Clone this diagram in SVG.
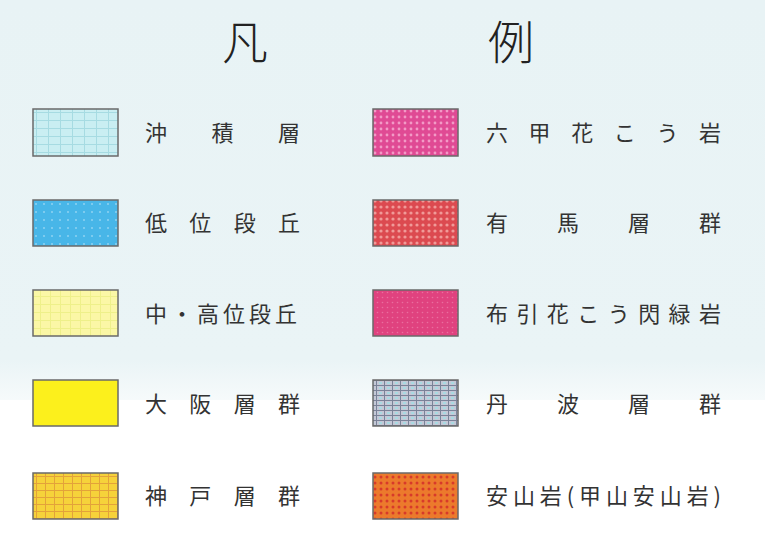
<svg xmlns="http://www.w3.org/2000/svg" width="765" height="541" viewBox="0 0 765 541">
<defs>
<linearGradient id="bg" x1="0" y1="0" x2="0" y2="1">
<stop offset="0" stop-color="#e8f3f5"/>
<stop offset="0.9" stop-color="#eaf4f6"/>
<stop offset="1" stop-color="#f6fafb"/>
</linearGradient>
<pattern id="pAlluv" width="12" height="8" patternUnits="userSpaceOnUse">
<rect width="12" height="8" fill="#c9eef2"/>
<path d="M0 0.5H12M0.5 0V8" stroke="#a6dbe2" stroke-width="1"/>
</pattern>
<pattern id="pLow" width="8" height="8" patternUnits="userSpaceOnUse">
<rect width="8" height="8" fill="#48b6e8"/>
<circle cx="4" cy="4" r="1" fill="#8fd3f2"/>
</pattern>
<pattern id="pMid" width="10" height="8" patternUnits="userSpaceOnUse">
<rect width="10" height="8" fill="#fbf7a6"/>
<path d="M0 0.5H10M0.5 0V8" stroke="#eef08a" stroke-width="1"/>
</pattern>
<pattern id="pKobe" width="9" height="7" patternUnits="userSpaceOnUse">
<rect width="9" height="7" fill="#f6d23a"/>
<path d="M0 0.5H9M0.5 0V7" stroke="#e3a23a" stroke-width="1"/>
</pattern>
<pattern id="pRokko" width="6" height="6" patternUnits="userSpaceOnUse">
<rect width="6" height="6" fill="#e04a94"/>
<circle cx="3" cy="3" r="1.4" fill="#f29ac6"/>
</pattern>
<pattern id="pArima" width="6" height="6" patternUnits="userSpaceOnUse">
<rect width="6" height="6" fill="#dc4a50"/>
<circle cx="3" cy="3" r="1.6" fill="#f09a98"/>
</pattern>
<pattern id="pNuno" width="5" height="5" patternUnits="userSpaceOnUse">
<rect width="5" height="5" fill="#e0427f"/>
<circle cx="2.5" cy="2.5" r="0.8" fill="#ea6e9e"/>
</pattern>
<pattern id="pTamba" width="8" height="5" patternUnits="userSpaceOnUse">
<rect width="8" height="5" fill="#c4c8d6"/>
<path d="M0 0.5H8M0.5 0V5" stroke="#7a8298" stroke-width="1"/>
<rect x="3" y="2" width="3" height="2" fill="#a8dae2"/>
</pattern>
<pattern id="pAnz" width="6" height="6" patternUnits="userSpaceOnUse">
<rect width="6" height="6" fill="#ec7a2c"/>
<circle cx="3" cy="3" r="1.5" fill="#d83a2a"/>
</pattern>
</defs>
<style>
.sw{stroke:#6a6a6a;stroke-width:1.5}
.lb{font-family:"Noto Sans CJK JP","Noto Sans CJK SC",sans-serif;font-size:22px;fill:#333}
.tt{font-family:"Noto Sans CJK JP","Noto Sans CJK SC",sans-serif;font-size:46px;font-weight:300;fill:#222}
</style>
<rect width="765" height="541" fill="#ffffff"/>
<rect width="765" height="400" fill="url(#bg)"/>
<g id="title">
<text class="tt" x="245" y="59" text-anchor="middle">凡</text>
<text class="tt" x="511" y="59" text-anchor="middle">例</text>
</g>
<g id="alluvium">
<rect class="sw" x="33" y="109" width="85" height="47" fill="url(#pAlluv)"/>
<text class="lb" x="145" y="141" textLength="155" lengthAdjust="spacing">沖積層</text>
</g>
<g id="low-terrace">
<rect class="sw" x="33" y="200" width="85" height="46" fill="url(#pLow)"/>
<text class="lb" x="145" y="231" textLength="155" lengthAdjust="spacing">低位段丘</text>
</g>
<g id="mid-high-terrace">
<rect class="sw" x="33" y="290" width="85" height="46" fill="url(#pMid)"/>
<text class="lb" x="145" y="322" textLength="152" lengthAdjust="spacing">中・高位段丘</text>
</g>
<g id="osaka-group">
<rect class="sw" x="33" y="380" width="85" height="46" fill="#fcf01c"/>
<text class="lb" x="145" y="412" textLength="155" lengthAdjust="spacing">大阪層群</text>
</g>
<g id="kobe-group">
<rect class="sw" x="33" y="473" width="85" height="46" fill="url(#pKobe)"/>
<text class="lb" x="145" y="504" textLength="155" lengthAdjust="spacing">神戸層群</text>
</g>
<g id="rokko-granite">
<rect class="sw" x="373" y="109" width="85" height="47" fill="url(#pRokko)"/>
<text class="lb" x="486" y="141" textLength="235" lengthAdjust="spacing">六甲花こう岩</text>
</g>
<g id="arima-group">
<rect class="sw" x="373" y="200" width="85" height="46" fill="url(#pArima)"/>
<text class="lb" x="486" y="231" textLength="235" lengthAdjust="spacing">有馬層群</text>
</g>
<g id="nunobiki">
<rect class="sw" x="373" y="290" width="85" height="46" fill="url(#pNuno)"/>
<text class="lb" x="486" y="322" textLength="235" lengthAdjust="spacing">布引花こう閃緑岩</text>
</g>
<g id="tamba-group">
<rect class="sw" x="373" y="380" width="85" height="46" fill="url(#pTamba)"/>
<text class="lb" x="486" y="412" textLength="235" lengthAdjust="spacing">丹波層群</text>
</g>
<g id="andesite">
<rect class="sw" x="373" y="473" width="85" height="46" fill="url(#pAnz)"/>
<text class="lb" x="486" y="504" textLength="235" lengthAdjust="spacing">安山岩(甲山安山岩)</text>
</g>
<g id="connectors"/>
</svg>
